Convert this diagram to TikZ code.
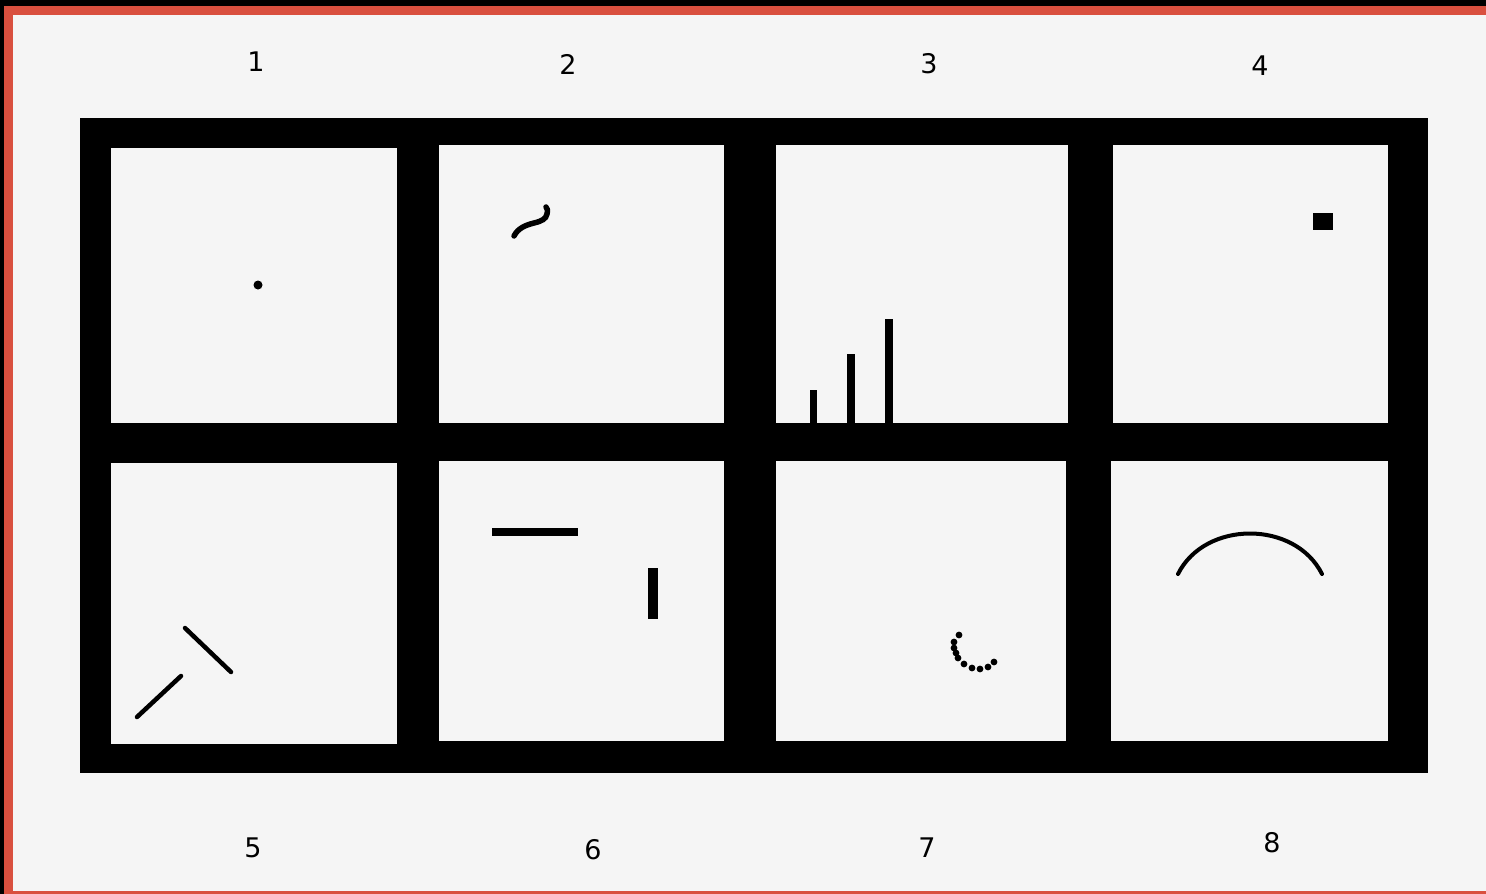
\documentclass[tikz,border=0pt]{standalone}
\usepackage{fontspec}
\setmainfont{DejaVu Sans}
\definecolor{paper}{HTML}{F5F5F5}
\definecolor{redframe}{HTML}{D9503F}
\begin{document}
\begin{tikzpicture}[x=1pt,y=-1pt,
  lbl/.style={font=\fontsize{27}{27}\selectfont, inner sep=0pt},
  cell/.style={fill=paper, draw=none},
  ink/.style={line width=#1, line cap=round, draw=black},
  dotk/.style={fill=black}]
\useasboundingbox (0,0) rectangle (1486,894);
% page background and frame
\fill[black] (0,0) rectangle (1486,894);
\fill[redframe] (4,6) rectangle (1486,894);
\fill[paper] (13,15) rectangle (1486,891);
% black grid
\fill[black] (80,118) rectangle (1428,773);
\fill[cell] (111,148) rectangle (397,423);
\fill[cell] (439,145) rectangle (724,423);
\fill[cell] (776,145) rectangle (1068,423);
\fill[cell] (1113,145) rectangle (1388,423);
\fill[cell] (111,463) rectangle (397,744);
\fill[cell] (439,461) rectangle (724,741);
\fill[cell] (776,461) rectangle (1066,741);
\fill[cell] (1111,461) rectangle (1388,741);
% labels
\node[lbl] (l1) at (256,62) {1};
\node[lbl] (l2) at (568,64) {2};
\node[lbl] (l3) at (929,64) {3};
\node[lbl] (l4) at (1260,66) {4};
\node[lbl] (l5) at (253,848) {5};
\node[lbl] (l6) at (593,850) {6};
\node[lbl] (l7) at (927,848) {7};
\node[lbl] (l8) at (1272,843) {8};
% cell 1: dot
\fill (258,285) circle (4.5);
% cell 2: squiggle
\draw[ink=5.5pt] (514,236) .. controls (518,228) and (526,225) .. (534,223)
  .. controls (542,221) and (546,219) .. (547,214) .. controls (548,210) and (547,208) .. (546,207);
% cell 3: bars
\fill (810,390) rectangle (817,424);
\fill (847,354) rectangle (855,424);
\fill (885,319) rectangle (893,424);
% cell 4: square
\fill (1313,213) rectangle (1333,230);
% cell 5: two strokes
\draw[ink=4.5pt] (137,717) -- (181,676);
\draw[ink=4.5pt] (185,628) -- (231,672);
% cell 6
\fill (492,528) rectangle (578,536);
\fill (648,568) rectangle (658,619);
% cell 7: dotted arc
\foreach \p in {(959,635),(954,642),(954,648),(956,653),(958,658),(964,664),(972,668),(980,669),(988,667),(994,662)}
  \fill \p circle (3.4);
% cell 8: arc
\draw[ink=4pt] (1178,574) .. controls (1205,520) and (1295,520) .. (1322,574);
\end{tikzpicture}
\end{document}
